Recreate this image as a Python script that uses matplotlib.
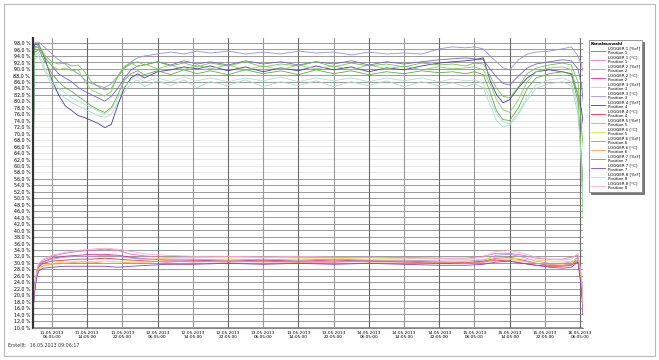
import matplotlib
matplotlib.use("Agg")
import numpy as np
import matplotlib.pyplot as plt
from matplotlib.patches import Rectangle


# time axis in hours after the first label (11.05.2013 06:05)
t_rh = [-4.3, -4.0, -3.0, -1.5, 0, 1.5, 3, 4.5, 6, 7.5, 9, 10.5, 12, 13.5, 15, 16.5, 18,
        19.5, 21, 24, 27, 30, 33, 36, 40, 44, 48, 52, 56, 60, 64, 68, 72, 76, 80, 84,
        88, 91, 94, 96, 98, 99.5, 101, 102.5, 104, 106, 108, 110, 113, 116, 118,
        119.5, 120.3, 120.7]

rh1 = [50.5, 97.0, 96.5, 93.4, 90.9, 88.5, 87.2, 86.0, 84.2, 83.0, 82.0, 81.0, 80.0, 81.5,
       84.0, 87.2, 89.7, 90.9, 91.2, 92.2, 91.2, 92.5, 91.5, 92.2, 91.2, 92.5, 91.5, 92.2,
       91.2, 92.2, 91.5, 92.5, 91.2, 92.2, 91.5, 92.2, 92.8, 93.1, 93.4, 93.1, 92.8, 90.0,
       87.5, 85.5, 85.0, 87.8, 90.3, 91.5, 92.2, 92.8, 92.5, 90.0, 85.0, 80.0]
rh2 = [52.0, 98.0, 98.3, 96.5, 94.6, 92.8, 91.5, 89.7, 88.5, 86.6, 85.4, 84.8, 84.2, 85.4,
       87.8, 90.3, 92.2, 93.4, 94.0, 94.6, 95.2, 94.6, 95.5, 94.9, 95.5, 94.6, 95.2, 94.6,
       95.5, 94.9, 95.2, 94.3, 95.2, 94.6, 94.9, 94.6, 96.2, 96.8, 96.5, 96.8, 96.2, 94.0,
       92.2, 90.3, 89.7, 92.8, 94.6, 95.2, 95.5, 96.2, 96.8, 94.0, 91.5, 89.0]
rh3 = [46.0, 93.0, 94.0, 89.0, 85.0, 82.5, 81.0, 79.5, 78.5, 77.5, 76.5, 75.5, 75.0, 76.0,
       79.5, 83.0, 85.4, 86.6, 84.5, 86.3, 84.8, 86.6, 84.2, 86.0, 84.8, 86.6, 84.5, 86.0,
       84.8, 86.3, 84.5, 86.0, 84.8, 86.3, 84.5, 86.0, 84.8, 85.7, 84.5, 85.4, 84.2, 79.0,
       74.0, 72.0, 72.5, 76.0, 80.5, 84.0, 85.4, 86.0, 84.8, 76.0, 62.0, 55.0]
rh4 = [49.7, 97.4, 97.7, 92.8, 86.6, 82.0, 78.6, 77.1, 75.5, 74.9, 74.0, 73.1, 71.8, 72.8,
       78.9, 84.2, 87.2, 88.5, 87.2, 89.1, 89.7, 90.6, 90.0, 90.9, 89.4, 90.6, 89.1, 90.3,
       89.4, 90.9, 89.7, 90.6, 89.1, 90.3, 89.7, 90.9, 91.8, 92.2, 92.5, 92.8, 93.4, 86.6,
       82.0, 79.5, 80.5, 84.2, 87.2, 89.1, 89.7, 89.1, 88.5, 82.0, 77.4, 72.8]
rh5 = [47.0, 96.0, 97.0, 93.4, 90.9, 89.7, 90.3, 89.4, 89.7, 86.0, 83.5, 82.5, 81.5, 83.0,
       88.0, 90.9, 91.8, 90.6, 91.5, 90.0, 91.2, 89.7, 91.2, 90.0, 91.2, 89.7, 90.9, 89.7,
       91.2, 90.0, 90.9, 89.7, 91.2, 90.0, 90.9, 89.7, 90.6, 90.0, 90.3, 90.6, 89.7, 85.4,
       80.5, 77.4, 76.5, 80.5, 86.0, 89.1, 90.3, 90.6, 89.7, 82.0, 60.0, 43.0]
rh6 = [49.0, 96.5, 97.4, 94.0, 92.2, 91.5, 91.8, 90.9, 91.2, 89.0, 86.0, 84.5, 83.5, 84.0,
       87.5, 90.3, 91.5, 92.2, 91.2, 92.2, 90.9, 91.8, 90.6, 91.8, 90.9, 92.2, 90.6, 91.5,
       90.9, 92.2, 90.6, 91.8, 90.9, 91.5, 90.6, 91.8, 91.2, 91.5, 90.9, 91.8, 91.5, 88.0,
       84.0, 81.5, 81.0, 84.5, 88.5, 90.3, 91.2, 91.8, 91.2, 86.0, 72.0, 66.0]
rh7 = [45.0, 95.0, 96.0, 92.0, 88.5, 86.0, 84.2, 83.0, 81.5, 80.0, 78.5, 77.4, 76.5, 78.0,
       82.0, 86.6, 88.5, 89.4, 88.2, 89.4, 88.2, 89.7, 88.5, 89.4, 88.2, 89.7, 88.5, 89.4,
       88.2, 89.7, 88.5, 89.4, 88.2, 89.1, 88.5, 89.4, 88.8, 89.1, 88.5, 89.1, 88.2, 83.0,
       77.0, 74.3, 74.0, 78.0, 84.0, 87.2, 88.5, 89.1, 88.2, 80.0, 62.0, 52.0]
rh8 = [48.0, 94.0, 95.0, 90.0, 86.0, 84.0, 82.5, 81.0, 80.0, 79.0, 78.0, 77.0, 76.0, 77.5,
       81.0, 84.5, 86.6, 87.5, 86.0, 87.2, 86.0, 87.5, 86.3, 87.2, 86.0, 87.2, 86.3, 87.5,
       86.0, 87.2, 86.3, 87.2, 86.0, 87.2, 86.3, 87.2, 86.0, 86.9, 86.3, 86.6, 85.4, 81.0,
       76.0, 73.5, 73.0, 76.5, 81.5, 85.0, 86.6, 87.2, 86.0, 78.0, 60.0, 48.0]

t_tc = [-4.3, -4.0, -3.5, -3.0, -2.0, 0, 3, 6, 9, 12, 15, 18, 22, 26, 32, 40, 48, 56, 64,
        72, 80, 88, 94, 98, 101, 104, 107, 110, 113, 116, 118, 119.5, 120.3, 120.7]

tc1 = [15.4, 22.5, 27.1, 29.5, 30.8, 32.0, 32.9, 33.5, 33.8, 34.2, 33.8, 32.6, 32.0, 31.7,
       31.7, 31.9, 31.7, 31.7, 31.6, 31.7, 31.6, 31.4, 31.4, 32.0, 32.9, 32.9, 32.3, 31.4,
       31.1, 31.1, 31.7, 32.3, 25.5, 14.8]
tc2 = [15.0, 21.5, 26.5, 29.0, 30.3, 31.4, 32.0, 32.3, 32.6, 32.6, 32.3, 31.7, 31.1, 30.8,
       30.8, 30.5, 30.8, 30.5, 30.8, 30.5, 30.5, 30.2, 30.0, 30.5, 31.4, 31.7, 30.8, 29.8,
       29.2, 29.2, 29.5, 31.4, 24.0, 14.5]
tc3 = [15.2, 21.5, 26.5, 28.9, 30.2, 31.1, 31.7, 32.0, 32.0, 32.3, 32.0, 31.4, 31.1, 31.1,
       31.1, 30.8, 31.1, 30.8, 31.1, 30.8, 30.8, 30.5, 30.5, 30.8, 32.3, 32.6, 31.7, 30.5,
       29.8, 29.8, 30.2, 31.7, 25.0, 14.8]
tc4 = [14.2, 20.5, 26.0, 28.6, 29.8, 30.5, 30.8, 31.1, 31.1, 31.4, 31.1, 30.8, 30.5, 30.2,
       30.5, 30.2, 30.5, 30.2, 30.2, 30.5, 30.2, 29.8, 29.8, 30.2, 30.8, 30.5, 29.8, 29.2,
       28.9, 28.9, 29.2, 30.5, 23.0, 14.0]
tc5 = [16.0, 22.0, 26.5, 28.3, 29.2, 29.8, 30.2, 30.5, 30.2, 30.5, 30.2, 30.8, 31.1, 31.4,
       31.7, 31.4, 31.7, 31.4, 31.4, 31.1, 31.4, 31.1, 30.8, 31.1, 31.7, 31.4, 31.1, 30.8,
       30.5, 30.2, 30.5, 31.1, 24.5, 15.5]
tc6 = [14.6, 21.0, 26.0, 28.0, 29.0, 29.5, 29.8, 30.2, 30.2, 29.8, 29.8, 30.2, 30.2, 30.5,
       30.2, 30.5, 30.2, 30.2, 30.5, 30.2, 30.2, 30.2, 29.8, 30.2, 31.1, 31.1, 30.5, 29.8,
       29.5, 29.2, 29.5, 30.8, 23.5, 14.3]
tc7 = [14.8, 20.0, 25.0, 27.4, 28.3, 28.6, 28.9, 28.9, 28.9, 28.9, 28.6, 28.9, 29.2, 29.5,
       29.5, 29.8, 29.5, 29.8, 29.5, 29.8, 29.5, 29.2, 29.2, 29.5, 30.2, 30.5, 29.8, 29.2,
       28.6, 28.3, 28.6, 30.2, 22.0, 13.8]
tc8 = [15.5, 22.0, 27.0, 29.8, 31.1, 32.3, 33.2, 33.8, 34.2, 34.5, 34.2, 33.5, 32.6, 32.3,
       32.0, 32.0, 31.7, 32.0, 31.7, 31.7, 31.4, 31.4, 31.1, 31.7, 33.5, 33.8, 32.9, 31.7,
       31.1, 30.8, 31.1, 32.9, 26.0, 15.0]

rh_series = [rh1, rh2, rh3, rh4, rh5, rh6, rh7, rh8]
tc_series = [tc1, tc2, tc3, tc4, tc5, tc6, tc7, tc8]
rh_colors = ["#7468c4", "#9890dc", "#a8dcc4", "#4a3898", "#88cc68", "#70c050", "#5cb040", "#b0dcd4"]
tc_colors = ["#e070c0", "#d830a0", "#b090e0", "#e83048", "#e8e040", "#f0a050", "#7848c8", "#f0b0d0"]

x_ticks = list(range(0, 121, 8))
x_labels = ["11.05.2013\n06:05:00", "11.05.2013\n14:05:00", "11.05.2013\n22:05:00",
            "12.05.2013\n06:05:00", "12.05.2013\n14:05:00", "12.05.2013\n22:05:00",
            "13.05.2013\n06:05:00", "13.05.2013\n14:05:00", "13.05.2013\n22:05:00",
            "14.05.2013\n06:05:00", "14.05.2013\n14:05:00", "14.05.2013\n22:05:00",
            "15.05.2013\n06:05:00", "15.05.2013\n14:05:00", "15.05.2013\n22:05:00",
            "16.05.2013\n06:05:00"]
y_ticks = list(range(10, 100, 2))

fig = plt.figure(figsize=(6.59, 3.6), dpi=100)
ax = fig.add_axes([0.050, 0.089, 0.835, 0.805])

for v in y_ticks:
    c = "#e6e6e6" if 58 <= v <= 80 else "#9a9a9a"
    ax.axhline(v, color=c, lw=0.7, zorder=0)
for i, v in enumerate(x_ticks):
    ax.axvline(v, color="#6a6a6a" if i % 2 else "#9a9a9a", lw=0.8, zorder=0)

handles = []
for i in range(8):
    h1, = ax.plot(t_rh, rh_series[i], color=rh_colors[i], lw=0.6,
                  label="LOGGER %d [%%rF]\nPosition %d" % (i + 1, i + 1))
    h2, = ax.plot(t_tc, tc_series[i], color=tc_colors[i], lw=0.6,
                  label="LOGGER %d [°C]\nPosition %d" % (i + 1, i + 1))
    handles += [h1, h2]

ax.set_xlim(-4.3, 120.7)
ax.set_ylim(9.8, 99.5)
ax.set_xticks(x_ticks)
ax.set_xticklabels(x_labels, fontsize=3.1)
ax.set_yticks(y_ticks)
ax.set_yticklabels([("%.1f" % v).replace(".", ",") + " %" for v in y_ticks], fontsize=3.4)
ax.tick_params(length=0, pad=2)
for s in ["top", "right"]:
    ax.spines[s].set_visible(False)
ax.spines["left"].set_color("#333333")
ax.spines["left"].set_linewidth(1.6)
ax.spines["bottom"].set_color("#888888")
ax.spines["bottom"].set_linewidth(0.8)

leg = fig.legend(handles=handles, loc="upper left", bbox_to_anchor=(587 / 659, 1 - 38 / 360),
                 fontsize=2.8, title="Kanalauswahl", title_fontsize=3, frameon=True,
                 fancybox=False, shadow={"ox": 1.5, "oy": -1.5, "color": "#555555", "alpha": 0.8},
                 handlelength=3.6, labelspacing=0.1, borderpad=0.5, handletextpad=0.8)
leg.get_title().set_fontweight("bold")
leg.get_frame().set_edgecolor("#888888")
leg.get_frame().set_linewidth(0.6)
leg._legend_box.align = "left"

fig.text(8 / 659, 1 - 347 / 360, "Erstellt:  16.05.2013 09:06:17", fontsize=3.4, color="#333333")
fig.patches.append(Rectangle((4 / 659, 4 / 360), 651 / 659, 352 / 360, transform=fig.transFigure,
                             fill=False, edgecolor="#b8b8b8", lw=0.8))

fig.savefig("out.png", dpi=100)
